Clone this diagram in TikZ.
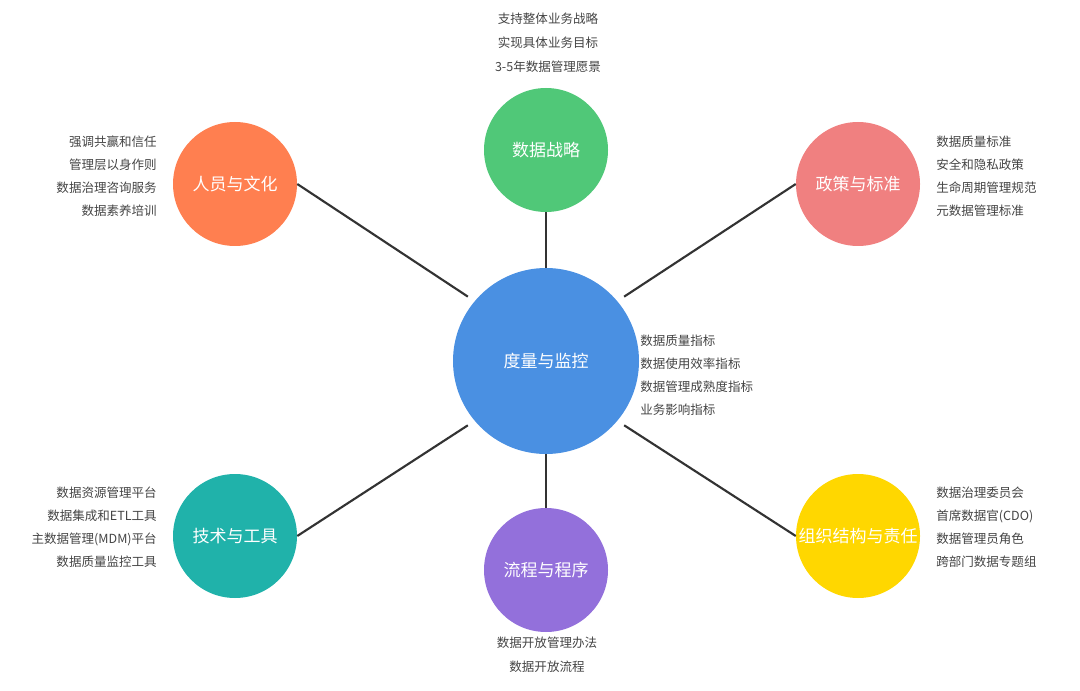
\documentclass[tikz,border=0pt]{standalone}
\usepackage{fontspec}
\setmainfont{Noto Sans CJK SC}
\usepackage{xcolor}
\usepackage{tikz}
\definecolor{hubblue}{HTML}{4A90E2}
\definecolor{stratgreen}{HTML}{50C878}
\definecolor{peoplecoral}{HTML}{FF7F50}
\definecolor{policypink}{HTML}{F08080}
\definecolor{techteal}{HTML}{20B2AA}
\definecolor{procpurple}{HTML}{9370DB}
\definecolor{orggold}{HTML}{FFD700}
\definecolor{linkgray}{HTML}{333333}
\definecolor{notegray}{HTML}{444444}

\begin{document}
\begin{tikzpicture}[x=0.75pt, y=-0.75pt]
  \tikzstyle{hubnode}=[circle,fill=hubblue,minimum size=139.5pt,inner sep=0pt,text=white,font=\fontsize{12.75}{15}\selectfont]
  \tikzstyle{topic}=[circle,minimum size=93pt,inner sep=0pt,text=white,font=\fontsize{12.75}{15}\selectfont]
  \tikzstyle{note}=[inner sep=0pt,text=notegray,font=\fontsize{9.4}{17.25}\selectfont]
  \tikzstyle{link}=[draw=linkgray,line width=1.6pt]
  \useasboundingbox (0,0) rectangle (1080,691);

  \node[hubnode] (hub) at (546,361) {度量与监控};
  \node[topic,fill=stratgreen] (strat) at (546,150) {数据战略};
  \node[topic,fill=peoplecoral] (people) at (235,184) {人员与文化};
  \node[topic,fill=policypink] (policy) at (858,184) {政策与标准};
  \node[topic,fill=techteal] (tech) at (235,536) {技术与工具};
  \node[topic,fill=procpurple] (proc) at (546,570) {流程与程序};
  \node[topic,fill=orggold] (org) at (858,536) {组织结构与责任};

  % side notes
  \node[note,align=center,font=\fontsize{9.4}{18}\selectfont] (stratnote) at (548,43) {支持整体业务战略\\实现具体业务目标\\3-5年数据管理愿景};
  \node[note,align=right,anchor=east] (peoplenote) at (157,176) {强调共赢和信任\\管理层以身作则\\数据治理咨询服务\\数据素养培训};
  \node[note,align=left,anchor=west] (policynote) at (936,176) {数据质量标准\\安全和隐私政策\\生命周期管理规范\\元数据管理标准};
  \node[note,align=left,anchor=west] (hubnote) at (640,375) {数据质量指标\\数据使用效率指标\\数据管理成熟度指标\\业务影响指标};
  \node[note,align=right,anchor=east] (technote) at (157,527) {数据资源管理平台\\数据集成和ETL工具\\主数据管理(MDM)平台\\数据质量监控工具};
  \node[note,align=left,anchor=west] (orgnote) at (936,527) {数据治理委员会\\首席数据官(CDO)\\数据管理员角色\\跨部门数据专题组};
  \node[note,align=center,font=\fontsize{9.4}{18}\selectfont] (procnote) at (547,655) {数据开放管理办法\\数据开放流程};

  \draw[link] (strat) -- (hub);
  \draw[link] (hub) -- (proc);
  \draw[link,shorten >=6pt] (people.east) -- (hub.140);
  \draw[link,shorten >=6pt] (policy.west) -- (hub.40);
  \draw[link,shorten >=6pt] (tech.east) -- (hub.220);
  \draw[link,shorten >=6pt] (org.west) -- (hub.320);
\end{tikzpicture}
\end{document}
